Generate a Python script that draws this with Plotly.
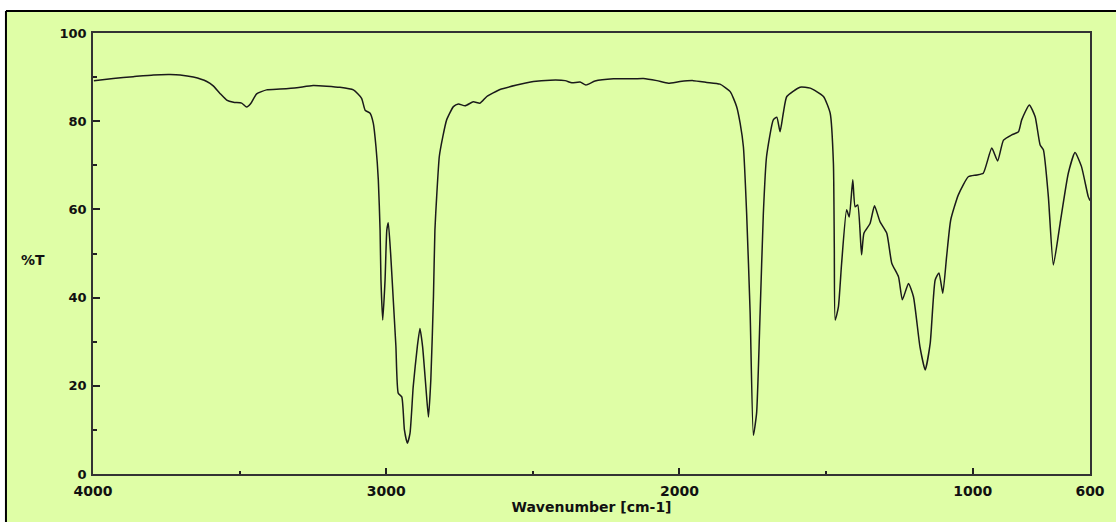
import plotly.graph_objects as go

# Wavenumber (cm-1) and transmittance (%T)
wavenumber = [3997, 3931, 3863, 3794, 3737, 3703, 3658, 3612, 3590, 3567, 3544, 3521, 3493, 3476, 3462,
              3442, 3408, 3362, 3305, 3249, 3158, 3112, 3084, 3072, 3055, 3044, 3035, 3027, 3021, 3018,
              3012, 3004, 2998, 2993, 2985, 2976, 2967, 2959, 2947, 2938, 2928, 2919, 2908, 2894, 2885,
              2876, 2864, 2856, 2848, 2839, 2834, 2828, 2819, 2807, 2794, 2771, 2754, 2731, 2703, 2680,
              2657, 2612, 2555, 2498, 2441, 2390, 2367, 2339, 2319, 2288, 2225, 2168, 2123, 2077, 2038,
              1998, 1953, 1907, 1862, 1827, 1805, 1793, 1782, 1771, 1759, 1748, 1737, 1725, 1714, 1703,
              1680, 1668, 1657, 1646, 1634, 1589, 1554, 1509, 1486, 1475, 1472, 1469, 1458, 1447, 1430,
              1421, 1409, 1401, 1392, 1379, 1371, 1350, 1335, 1316, 1293, 1276, 1253, 1240, 1219, 1202,
              1180, 1162, 1145, 1128, 1115, 1102, 1089, 1075, 1049, 1015, 986, 964, 935, 915, 895,
              867, 844, 833, 807, 787, 770, 759, 742, 725, 702, 674, 651, 629, 606, 600]
transmittance = [89.2, 89.7, 90.1, 90.5, 90.6, 90.5, 90.0, 89.0, 88.0, 86.3, 84.8, 84.3, 84.1, 83.2, 84.0,
                 86.2, 87.1, 87.3, 87.6, 88.1, 87.7, 87.1, 85.2, 82.5, 81.8, 79.5, 74.2, 66.7, 55.3, 44.0,
                 34.9, 44.0, 55.3, 57.0, 50.0, 39.5, 28.9, 18.3, 17.5, 10.0, 7.0, 9.2, 19.8, 28.9, 33.0,
                 28.9, 19.0, 12.9, 21.3, 40.2, 55.3, 62.9, 72.0, 76.5, 80.3, 83.3, 83.9, 83.5, 84.4, 84.1,
                 85.6, 87.2, 88.2, 89.0, 89.3, 89.2, 88.7, 88.9, 88.2, 89.1, 89.6, 89.6, 89.7, 89.2, 88.6,
                 89.0, 89.2, 88.8, 88.4, 86.7, 83.3, 79.5, 74.2, 59.2, 36.5, 8.8, 13.8, 36.5, 59.0, 72.0,
                 80.3, 80.9, 77.6, 81.8, 85.6, 87.7, 87.5, 85.6, 81.8, 70.4, 51.5, 34.9, 37.9, 47.8, 59.9,
                 58.3, 66.7, 60.6, 61.0, 49.7, 54.6, 56.8, 60.8, 57.2, 54.6, 47.8, 44.7, 39.5, 43.2, 40.2,
                 28.9, 23.6, 29.6, 44.0, 45.6, 41.0, 49.3, 57.6, 63.3, 67.4, 67.8, 68.2, 73.9, 71.0, 75.7,
                 76.9, 77.6, 80.3, 83.7, 81.0, 74.6, 73.5, 62.9, 47.4, 56.8, 68.2, 72.9, 69.7, 62.9, 62.0]

x_ticks = [4000, 3000, 2000, 1000, 600]
x_minor = [3500, 2500, 1500]
y_ticks = [0, 20, 40, 60, 80, 100]
y_minor = [10, 30, 50, 70, 90]

BG = "#DFFEA6"
FONT = dict(family="DejaVu Sans", size=14, color="#111111", weight="bold")
YFONT = dict(family="DejaVu Sans", size=13, color="#111111", weight="bold")

fig = go.Figure()
fig.add_trace(go.Scatter(x=wavenumber, y=transmittance, mode="lines",
                         line=dict(color="#1a1a1a", width=1.5, shape="spline", smoothing=0.5),
                         showlegend=False, hoverinfo="x+y"))

fig.update_layout(
    width=1116, height=522,
    margin=dict(l=93, r=26, t=33, b=48),
    paper_bgcolor=BG, plot_bgcolor=BG,
    font=FONT,
    xaxis=dict(range=[4000, 600], tickvals=x_ticks, ticktext=[str(v) for v in x_ticks],
               ticks="inside", ticklen=6, tickwidth=1.5, tickcolor="#222",
               minor=dict(tickvals=x_minor, ticks="inside", ticklen=3, tickwidth=1.5, tickcolor="#222"),
               showgrid=False, zeroline=False, showline=True, linecolor="#333", linewidth=1.5,
               mirror=True, tickfont=FONT, ticklabelstandoff=3,
               title=dict(text="Wavenumber [cm-1]", font=FONT, standoff=3)),
    yaxis=dict(range=[0, 100], tickvals=y_ticks, ticks="inside", ticklen=7, tickwidth=1.5,
               tickcolor="#222",
               minor=dict(tickvals=y_minor, ticks="inside", ticklen=4, tickwidth=1.5, tickcolor="#222"),
               showgrid=False, zeroline=False, showline=True, linecolor="#333", linewidth=1.5,
               mirror=True, tickfont=YFONT, ticklabelstandoff=2),
    annotations=[dict(text="%T", xref="paper", yref="paper", x=-0.060, y=0.485,
                      showarrow=False, font=FONT, xanchor="center", yanchor="middle")],
    shapes=[
        # white strip above and to the left of the outer frame
        dict(type="rect", xref="paper", yref="paper", x0=-0.2, x1=1.2, y0=1.0499, y1=1.2,
             fillcolor="white", line=dict(width=0), layer="below"),
        dict(type="rect", xref="paper", yref="paper", x0=-0.2, x1=-0.0873, y0=-0.2, y1=1.2,
             fillcolor="white", line=dict(width=0), layer="below"),
        dict(type="line", xref="paper", yref="paper", x0=-0.0873, x1=1.2, y0=1.0499, y1=1.0499,
             line=dict(color="black", width=2)),
        dict(type="line", xref="paper", yref="paper", x0=-0.0873, x1=-0.0873, y0=-0.2, y1=1.0499,
             line=dict(color="black", width=2)),
    ],
)

fig.write_html("out.html")
